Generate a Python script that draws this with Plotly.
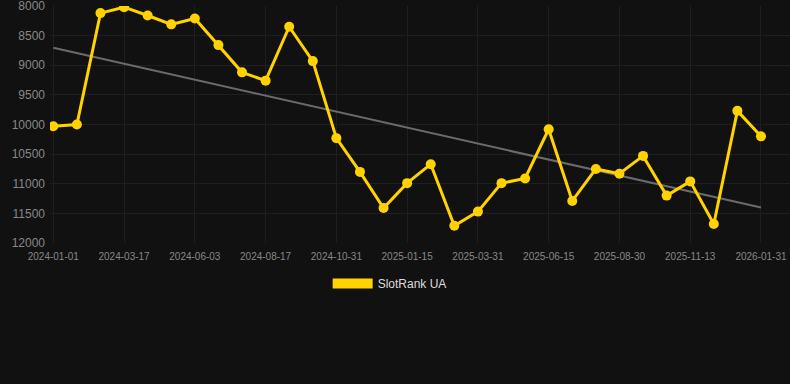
import numpy as np
import plotly.graph_objects as go

dates = [
    "2024-01-01", "2024-01-26", "2024-02-20", "2024-03-17", "2024-04-11", "2024-05-08",
    "2024-06-03", "2024-06-28", "2024-07-23", "2024-08-17", "2024-09-11", "2024-10-06",
    "2024-10-31", "2024-11-25", "2024-12-20", "2025-01-15", "2025-02-09", "2025-03-06",
    "2025-03-31", "2025-04-25", "2025-05-20", "2025-06-15", "2025-07-10", "2025-08-05",
    "2025-08-30", "2025-09-24", "2025-10-19", "2025-11-13", "2025-12-08", "2026-01-03",
    "2026-01-31",
]
ranks = [
    10030, 10000, 8120, 8020, 8160, 8310, 8210, 8660, 9120, 9260, 8350, 8930,
    10230, 10800, 11410, 10990, 10670, 11710, 11470, 10990, 10910, 10080, 11290,
    10750, 10830, 10530, 11200, 10960, 11680, 9770, 10200,
]
tick_labels = [
    "2024-01-01", "2024-03-17", "2024-06-03", "2024-08-17", "2024-10-31", "2025-01-15",
    "2025-03-31", "2025-06-15", "2025-08-30", "2025-11-13", "2026-01-31",
]
y_ticks = [8000, 8500, 9000, 9500, 10000, 10500, 11000, 11500, 12000]

idx = np.arange(len(dates))
coef = np.polyfit(idx, ranks, 1)
trend = np.polyval(coef, idx)

YELLOW = "#FFD200"
GRID = "#1f1f1f"
fig = go.Figure()
fig.add_trace(go.Scatter(
    x=dates, y=trend, mode="lines",
    line=dict(color="#6b6b6b", width=2), showlegend=False, hoverinfo="skip",
))
fig.add_trace(go.Scatter(
    x=dates, y=ranks, mode="lines+markers",
    line=dict(color=YELLOW, width=3),
    marker=dict(color=YELLOW, size=10),
    showlegend=False, name="SlotRank UA",
))
fig.add_trace(go.Scatter(
    x=[None], y=[None], mode="lines",
    line=dict(color=YELLOW, width=11), name="SlotRank UA",
))

fig.update_layout(
    width=790, height=384,
    paper_bgcolor="#111111", plot_bgcolor="#111111",
    margin=dict(l=50, r=0, t=6, b=141),
    font=dict(family="Liberation Sans, Arial, sans-serif", color="#888888"),
    xaxis=dict(
        type="category", categoryorder="array", categoryarray=dates,
        range=[-0.14, 31.23],
        tickmode="array", tickvals=tick_labels, ticktext=tick_labels,
        tickfont=dict(size=10, color="#888888"),
        showgrid=True, gridcolor=GRID, gridwidth=1,
        zeroline=False, showline=False, ticks="", ticklabelstandoff=6,
        ticklabeloverflow="allow",
    ),
    yaxis=dict(
        range=[12000, 8000], tickvals=y_ticks, ticktext=[str(v) for v in y_ticks],
        tickfont=dict(size=12, color="#888888"),
        showgrid=True, gridcolor=GRID, gridwidth=1,
        zeroline=False, showline=False, ticks="", ticklabelstandoff=4,
        ticklabeloverflow="allow",
    ),
    legend=dict(
        orientation="h", x=0.459, xanchor="center", y=-0.11, yanchor="top",
        font=dict(size=12, color="#dddddd"), itemwidth=40,
        bgcolor="rgba(0,0,0,0)",
    ),
)
fig.write_html(
    "out.html",
    config={"displayModeBar": False},
    post_script="document.body.style.margin='0';document.body.style.background='#111111';",
)
